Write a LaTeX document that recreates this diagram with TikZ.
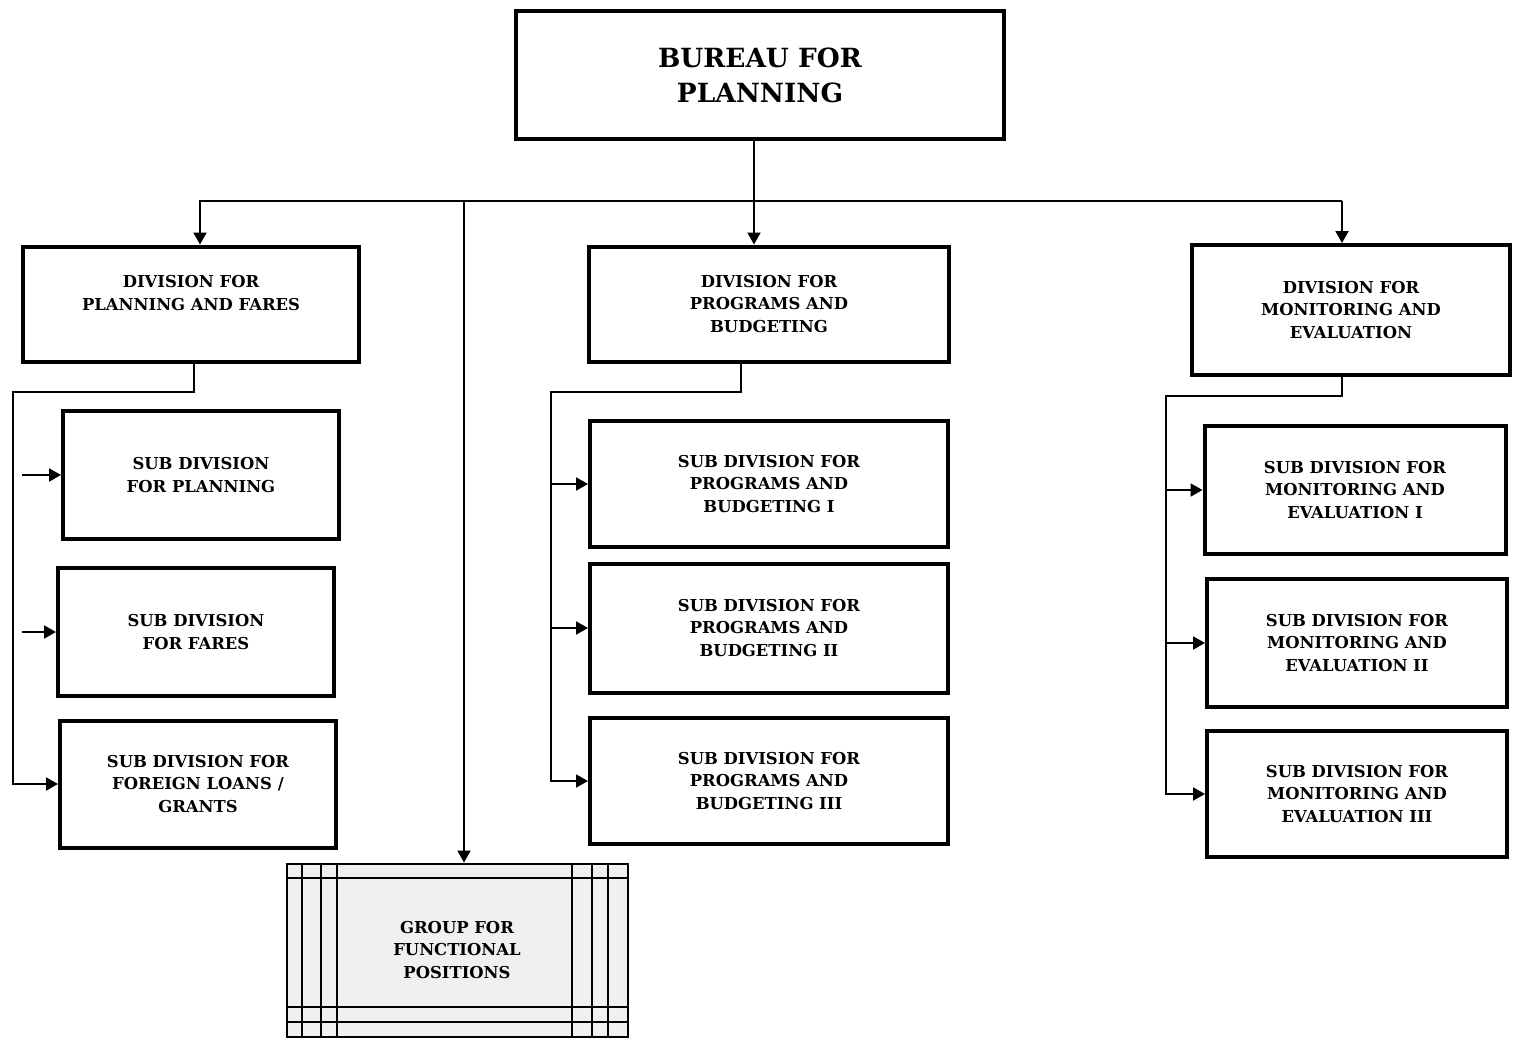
\documentclass[tikz,border=0pt]{standalone}
\usepackage{fontspec}
\setmainfont{DejaVu Serif}
\usetikzlibrary{arrows.meta}

\tikzset{
    unitbox/.style={draw, line width=2pt, align=center, inner sep=2pt,
        font=\bfseries\fontsize{8.2}{11.2}\selectfont},
    bureaubox/.style={unitbox, font=\bfseries\fontsize{13.2}{17.5}\selectfont},
    groupbox/.style={draw, line width=1pt, fill=gray!12, align=center,
        font=\bfseries\fontsize{8.2}{11.2}\selectfont},
    gridline/.style={line width=0.8pt},
    linkarrow/.style={line width=1pt, -{Triangle[length=6pt,width=6.5pt]}}
}

\begin{document}
\begin{tikzpicture}[x=0.5pt,y=-0.5pt]
        \useasboundingbox (0,0) rectangle (1517,1040);

        % Define head of the bureau
        \node[bureaubox, minimum width=244pt, minimum height=64pt] (bureau) at (760,75) {BUREAU FOR\\PLANNING};

        % Define divisions
        \node[unitbox, minimum width=168pt, minimum height=57.5pt] (div1) at (191,304) {DIVISION FOR\\PLANNING AND FARES\\\mbox{}};
        \node[unitbox, minimum width=180pt, minimum height=57.5pt] (div2) at (769,304) {DIVISION FOR\\PROGRAMS AND\\BUDGETING};
        \node[unitbox, minimum width=159pt, minimum height=65pt] (div3) at (1351,310) {DIVISION FOR\\MONITORING AND\\EVALUATION};

        % Define sub divisions
        \node[unitbox, minimum width=138pt, minimum height=64pt] (sub1a) at (201,475) {SUB DIVISION\\FOR PLANNING};
        \node[unitbox, minimum width=138pt, minimum height=64pt] (sub1b) at (196,632) {SUB DIVISION\\FOR FARES};
        \node[unitbox, minimum width=138pt, minimum height=63.5pt] (sub1c) at (198,784) {SUB DIVISION FOR\\FOREIGN LOANS /\\GRANTS};
        \node[unitbox, minimum width=179pt, minimum height=63pt] (sub2a) at (769,484) {SUB DIVISION FOR\\PROGRAMS AND\\BUDGETING I};
        \node[unitbox, minimum width=179pt, minimum height=64.5pt] (sub2b) at (769,628) {SUB DIVISION FOR\\PROGRAMS AND\\BUDGETING II};
        \node[unitbox, minimum width=179pt, minimum height=63pt] (sub2c) at (769,781) {SUB DIVISION FOR\\PROGRAMS AND\\BUDGETING III};
        \node[unitbox, minimum width=150.5pt, minimum height=64pt] (sub3a) at (1355,490) {SUB DIVISION FOR\\MONITORING AND\\EVALUATION I};
        \node[unitbox, minimum width=150pt, minimum height=64pt] (sub3b) at (1357,643) {SUB DIVISION FOR\\MONITORING AND\\EVALUATION II};
        \node[unitbox, minimum width=150pt, minimum height=63pt] (sub3c) at (1357,794) {SUB DIVISION FOR\\MONITORING AND\\EVALUATION III};

        % Define group for functional positions
        \node[groupbox, minimum width=170.5pt, minimum height=86.5pt] (group) at (457,950) {GROUP FOR\\FUNCTIONAL\\POSITIONS};
        \foreach \gx in {302,321,337,572,592,608}
        \draw[gridline] (\gx,864) -- (\gx,1037);
        \foreach \gy in {878,1007,1022}
        \draw[gridline] (287,\gy) -- (627,\gy);

        % Define branch points
        \coordinate (busL) at (200,201);
        \coordinate (busM) at (754,201);
        \coordinate (busG) at (464,201);
        \coordinate (busR) at (1342,201);
        \coordinate (drop1) at (194,392);
        \coordinate (trunk1) at (13,392);
        \coordinate (tick1) at (22,0);
        \coordinate (drop2) at (741,392);
        \coordinate (trunk2) at (551,392);
        \coordinate (drop3) at (1342,396);
        \coordinate (trunk3) at (1166,396);

        % Define connectors from the bureau
        \draw[linkarrow] (bureau.south -| busM) -- (div2.north -| busM);
        \draw[linkarrow] (busR) -- (busL) -- (div1.north -| busL);
        \draw[linkarrow] (busR) -- (div3.north -| busR);
        \draw[linkarrow] (busG) -- (group.north -| busG);

        % Define connectors to the sub divisions
        \draw[linkarrow] (div1.south -| drop1) -- (drop1) -- (trunk1) -- (trunk1 |- sub1c.west) -- (sub1c.west);
        \draw[linkarrow] (sub1a.west -| tick1) -- (sub1a.west);
        \draw[linkarrow] (sub1b.west -| tick1) -- (sub1b.west);
        \draw[linkarrow] (div2.south -| drop2) -- (drop2) -- (trunk2) -- (trunk2 |- sub2c.west) -- (sub2c.west);
        \draw[linkarrow] (trunk2 |- sub2a.west) -- (sub2a.west);
        \draw[linkarrow] (trunk2 |- sub2b.west) -- (sub2b.west);
        \draw[linkarrow] (div3.south -| drop3) -- (drop3) -- (trunk3) -- (trunk3 |- sub3c.west) -- (sub3c.west);
        \draw[linkarrow] (trunk3 |- sub3a.west) -- (sub3a.west);
        \draw[linkarrow] (trunk3 |- sub3b.west) -- (sub3b.west);
    \end{tikzpicture}
\end{document}
